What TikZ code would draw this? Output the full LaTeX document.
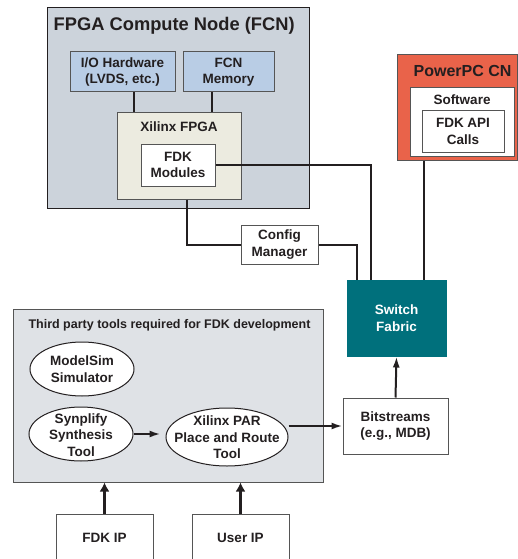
\documentclass[tikz,border=0pt]{standalone}
\usepackage{fontspec}
\setmainfont{Liberation Sans}
\usetikzlibrary{arrows.meta,positioning,shapes.geometric}
\definecolor{fcnGray}{RGB}{204,211,219}
\definecolor{hwBlue}{RGB}{185,205,229}
\definecolor{fpgaTan}{RGB}{236,235,224}
\definecolor{toolGray}{RGB}{223,226,230}
\definecolor{swTeal}{RGB}{0,112,124}
\definecolor{ppcRed}{RGB}{233,99,74}
\definecolor{txtGray}{RGB}{35,31,32}
\definecolor{lineGray}{RGB}{85,85,85}
\newcommand{\boxfont}{\fontsize{13.5}{16.5}\selectfont\bfseries}
\tikzset{
    box/.style={rectangle, draw=lineGray, line width=1pt, fill=white, inner sep=0pt, align=center, text=txtGray, font=\boxfont},
    oval/.style={ellipse, draw=txtGray, line width=1pt, fill=white, inner sep=0pt},
    ttl/.style={text=txtGray, inner sep=0pt, align=center, font=\boxfont},
    wire/.style={line width=2pt, txtGray},
    arr/.style={line width=2pt, txtGray, -{Latex[length=11pt,width=7pt]}},
    fat arr/.style={line width=3pt, txtGray, -{Latex[length=9pt,width=10pt]}}
}

\begin{document}
\begin{tikzpicture}[x=1pt,y=-1pt]
\useasboundingbox (0,0) rectangle (518,559);
\clip (0,0) rectangle (518,559);
% FPGA compute node
\node[box, fill=fcnGray, draw=txtGray, minimum width=262pt, minimum height=200pt] (fcn) at (178,108) {};
\node[ttl, anchor=base west, font=\fontsize{18.3}{21}\selectfont\bfseries] (fcnttl) at ([xshift=7pt,yshift=-23.5pt]fcn.north west) {FPGA Compute Node (FCN)};
\node[box, fill=hwBlue, minimum width=105pt, minimum height=40pt] (iohw) at (122.5,72) {I/O Hardware\\(LVDS, etc.)};
\node[box, fill=hwBlue, minimum width=91pt, minimum height=40pt] (fcnmem) at (228.5,72) {FCN\\Memory};
\node[box, fill=fpgaTan, minimum width=124pt, minimum height=86pt] (xfpga) at (179,156) {};
\node[ttl, anchor=base] (xfpgattl) at ([yshift=-19pt]xfpga.north) {Xilinx FPGA};
\node[box, minimum width=74pt, minimum height=42pt] (fdkmod) at (178,165) {FDK\\Modules};
\coordinate (ioA) at ([xshift=11.5pt]iohw.south);
\coordinate (memA) at ([xshift=-16.5pt]fcnmem.south);
\draw[wire] (ioA) -- (ioA |- xfpga.north);
\draw[wire] (memA) -- (memA |- xfpga.north);

% PowerPC node
\node[box, fill=ppcRed, draw=lineGray, minimum width=120pt, minimum height=105pt] (ppc) at (457,107.5) {};
\node[ttl, anchor=base, font=\fontsize{16}{19}\selectfont\bfseries] (ppcttl) at ([xshift=5.5pt,yshift=-22pt]ppc.north) {PowerPC CN};
\node[box, minimum width=104pt, minimum height=68pt] (sw) at (462,122) {};
\node[ttl, anchor=base] (swttl) at ([yshift=-17pt]sw.north) {Software};
\node[box, minimum width=82pt, minimum height=41pt] (fdkapi) at (463,131.5) {FDK API\\Calls};

% switch and config
\node[box, minimum width=77pt, minimum height=39pt] (cfgmgr) at (279.5,244.5) {Config\\Manager};
\node[box, fill=swTeal, draw=swTeal, text=white, minimum width=99pt, minimum height=76pt] (switch) at (396.5,318) {Switch\\Fabric};
\draw[wire] (fdkmod.east) -| ([xshift=-25.5pt]switch.north);
\draw[wire] ([xshift=8pt]xfpga.south) |- (cfgmgr.west);
\draw[wire] (cfgmgr.east) -| ([xshift=-39.5pt]switch.north);
\draw[wire] ([xshift=-33pt]ppc.south) -- ([xshift=27.5pt]switch.north);

% third party tools
\node[box, fill=toolGray, minimum width=310pt, minimum height=173pt] (tools) at (168,395.5) {};
\node[ttl, anchor=base, font=\fontsize{12.5}{15}\selectfont\bfseries] (toolsttl) at ([xshift=1.5pt,yshift=-20pt]tools.north) {Third party tools required for FDK development};
\node[oval, minimum width=104pt, minimum height=54pt] (modelsim) at (82,369) {};
\node[ttl] at (modelsim) {ModelSim\\Simulator};
\node[oval, minimum width=104pt, minimum height=54pt] (synplify) at (81,434) {};
\node[ttl] at ([yshift=-1pt]synplify) {Synplify\\Synthesis\\Tool};
\node[oval, minimum width=122pt, minimum height=58pt] (xpar) at (227,437) {};
\node[ttl] at ([yshift=-0.5pt]xpar) {Xilinx PAR\\Place and Route\\Tool};
\node[box, minimum width=105pt, minimum height=56pt] (bits) at (395.5,426) {Bitstreams\\(e.g., MDB)};
\node[box, minimum width=97pt, minimum height=48pt] (fdkip) at (104.5,538) {FDK IP};
\node[box, minimum width=97pt, minimum height=48pt] (userip) at (240.5,538) {User IP};
\draw[arr, shorten >=5pt] (synplify.east) -- (synplify.east -| xpar.west);
\draw[arr] (xpar.east |- bits.west) -- (bits.west);
\draw[arr] (bits.north) -- (switch.south);
\draw[fat arr] (fdkip.north) -- (fdkip.north |- tools.south);
\draw[fat arr] (userip.north) -- (userip.north |- tools.south);
\end{tikzpicture}
\end{document}
